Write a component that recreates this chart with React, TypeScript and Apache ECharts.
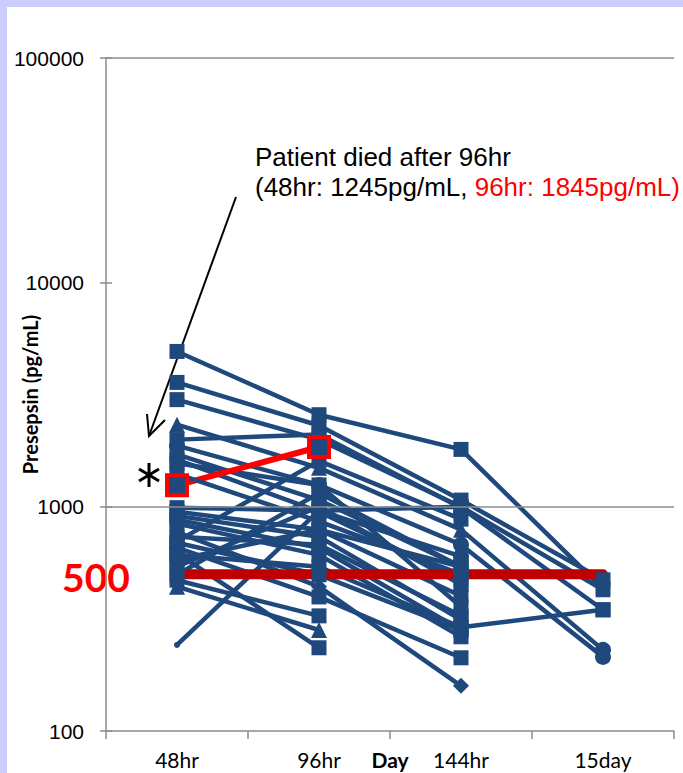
import React, { useEffect, useRef } from "react";
import * as echarts from "echarts";

// Categories (time points)
const categories = ["48hr", "96hr", "144hr", "15day"];
// Y axis decade ticks
const yTicks = [100, 1000, 10000, 100000];
const cutoff = 500;

// Presepsin (pg/mL) per patient at each time point (null = not measured)
const h48 = [4920, 3580, 3000, 2320, 1990, 1870, 1710, 1620, 1560, 990, 950, 910, 875, 840, 735, 690, 656, 610, 580, 497, 440, 242, 470, 620, 770, 540, 1400, 700];
const h96 = [2570, 2300, 1990, 1490, 2100, 1250, 1070, 950, 1250, 960, 790, 735, 656, 610, 677, 497, 396, 540, 790, 1150, 282, 960, 326, 235, 440, 1000, 860, 1600];
const h144 = [1800, 1070, 1000, 790, 990, 677, 540, 472, 358, 1000, 540, 313, 282, 263, 326, 282, 212, 290, 400, 540, null, 600, null, null, 159, 450, 500, 880];
const d15 = [430, 472, 426, 230, 347, 214, null, null, null, null, null, null, null, null, null, null, null, 347, null, null, null, null, null, null, null, null, null, null];
const markers = ["rect", "rect", "rect", "triangle", "rect", "circle", "rect", "rect", "rect", "rect", "rect", "rect", "rect", "rect", "rect", "rect", "rect", "rect", "rect", "rect", "triangle", "circle", "rect", "rect", "diamond", "rect", "rect", "rect"];
const d15Markers = [null, null, "triangle", "circle", null, "circle"];

// Patient who died after 96hr
const diedPatient = [1245, 1845, null, null];

const BLUE = "#1F497D";

export default function App() {
  const ref = useRef<HTMLDivElement>(null);
  useEffect(() => {
    if (!ref.current) return;
    const chart = echarts.init(ref.current, undefined, { renderer: "svg" });
    const blueSeries = h48.map((_, i) => {
      const vals = [h48[i], h96[i], h144[i], d15[i]];
      const data = vals.map((v, j) =>
        j === 3 && d15Markers[i] ? { value: v, symbol: d15Markers[i] } : v
      );
      const tiny = i === 21;
      return {
        type: "line",
        name: "p" + (i + 1),
        data,
        symbol: markers[i],
        symbolSize: (v: any, p: any) => (tiny && p.dataIndex === 0 ? 6 : markers[i] === "rect" ? 15 : 16),
        connectNulls: false,
        itemStyle: { color: BLUE },
        lineStyle: { color: BLUE, width: 4.5 },
        silent: true,
      };
    });
    const redMarkers = {
      type: "line",
      name: "died-markers",
      data: diedPatient,
      symbol: "rect",
      symbolSize: 20,
      itemStyle: { color: BLUE, borderColor: "#FF0000", borderWidth: 4 },
      lineStyle: { width: 0, opacity: 0 },
      silent: true,
    };
    const redLine = {
      type: "line",
      name: "died",
      data: diedPatient,
      symbol: "none",
      lineStyle: { color: "#FF0000", width: 6 },
      silent: true,
    };
    const series: any[] = [
      ...blueSeries.slice(0, 10),
      redLine,
      ...blueSeries.slice(10),
      redMarkers,
      {
        type: "line",
        name: "cutoff",
        data: categories.map(() => cutoff),
        symbol: "none",
        lineStyle: { color: "#C00000", width: 10, cap: "round" },
        silent: true,
        markLine: {
          silent: true,
          symbol: "none",
          label: { show: false },
          lineStyle: { color: "#8c8c8c", width: 1.5, type: "solid" },
          data: [{ yAxis: yTicks[1] }, { yAxis: yTicks[3] }],
        },
      },
    ];
    chart.setOption({
      animation: false,
      backgroundColor: "#CCCCFF",
      grid: { left: 106, right: 9, top: 58, bottom: 42, containLabel: false, outerBoundsMode: "none" },
      xAxis: {
        type: "category",
        data: categories,
        boundaryGap: true,
        name: "Day",
        nameLocation: "middle",
        nameGap: 18,
        nameMoveOverlap: false,
        nameTextStyle: { fontFamily: "Lato", fontWeight: "bold", fontSize: 21, color: "#000", verticalAlign: "top" },
        axisLine: { lineStyle: { color: "#8c8c8c", width: 1.5 } },
        axisTick: { show: true, length: 8, lineStyle: { color: "#8c8c8c", width: 1.5 } },
        axisLabel: { fontFamily: "Lato", fontSize: 21, color: "#000", margin: 18 },
        splitLine: { show: false },
      },
      yAxis: [
        {
          type: "log",
          logBase: 10,
          min: yTicks[0],
          max: yTicks[3],
          name: "Presepsin (pg/mL)",
          nameLocation: "middle",
          nameGap: 66,
          nameMoveOverlap: false,
          nameTextStyle: { fontFamily: "Lato", fontWeight: "bold", fontSize: 20, color: "#000" },
          axisLine: { show: true, lineStyle: { color: "#8c8c8c", width: 1.5 } },
          axisTick: { show: true, length: 6, lineStyle: { color: "#8c8c8c", width: 1.5 } },
          axisLabel: { fontFamily: "Liberation Sans", fontSize: 21, color: "#000", margin: 22, formatter: (v: number) => String(Math.round(v)) },
          splitLine: { show: false },
        },
        {
          type: "log",
          logBase: 10,
          min: yTicks[0],
          max: yTicks[3],
          position: "left",
          axisLine: { show: false },
          axisTick: { show: true, inside: true, length: 6, lineStyle: { color: "#8c8c8c", width: 1.5 } },
          axisLabel: { show: false },
          splitLine: { show: false },
        },
      ],
      series,
      graphic: [
        { type: "rect", z: -10, silent: true, shape: { x: 7, y: 7, width: 690, height: 780 }, style: { fill: "#FFFFFF" } },
        {
          type: "text",
          x: 255,
          y: 142,
          silent: true,
          style: {
            text: "{b|Patient died after 96hr}\n{b|(48hr: 1245pg/mL, }{r|96hr: 1845pg/mL)}",
            rich: {
              b: { fontFamily: "Liberation Sans", fontSize: 26, fill: "#000", lineHeight: 30 },
              r: { fontFamily: "Liberation Sans", fontSize: 26, fill: "#FF0000", lineHeight: 30 },
            },
          },
        },
        { type: "line", silent: true, shape: { x1: 236, y1: 197, x2: 149, y2: 436 }, style: { stroke: "#000", lineWidth: 2 } },
        { type: "polyline", silent: true, shape: { points: [[147, 414], [149, 436], [165, 420]] }, style: { stroke: "#000", lineWidth: 2, fill: null } },
        { type: "line", silent: true, shape: { x1: 149, y1: 463, x2: 149, y2: 487 }, style: { stroke: "#000", lineWidth: 3 } },
        { type: "line", silent: true, shape: { x1: 139, y1: 469, x2: 159, y2: 481 }, style: { stroke: "#000", lineWidth: 3 } },
        { type: "line", silent: true, shape: { x1: 139, y1: 481, x2: 159, y2: 469 }, style: { stroke: "#000", lineWidth: 3 } },
        {
          type: "text",
          x: 96,
          y: 577,
          silent: true,
          style: { text: String(cutoff), fontFamily: "Lato", fontWeight: "bold", fontSize: 39, fill: "#FF0000", align: "center", verticalAlign: "middle" },
        },
      ],
    });
    return () => chart.dispose();
  }, []);
  return <div ref={ref} style={{ position: "absolute", left: 0, top: 0, width: 683, height: 773 }} />;
}
